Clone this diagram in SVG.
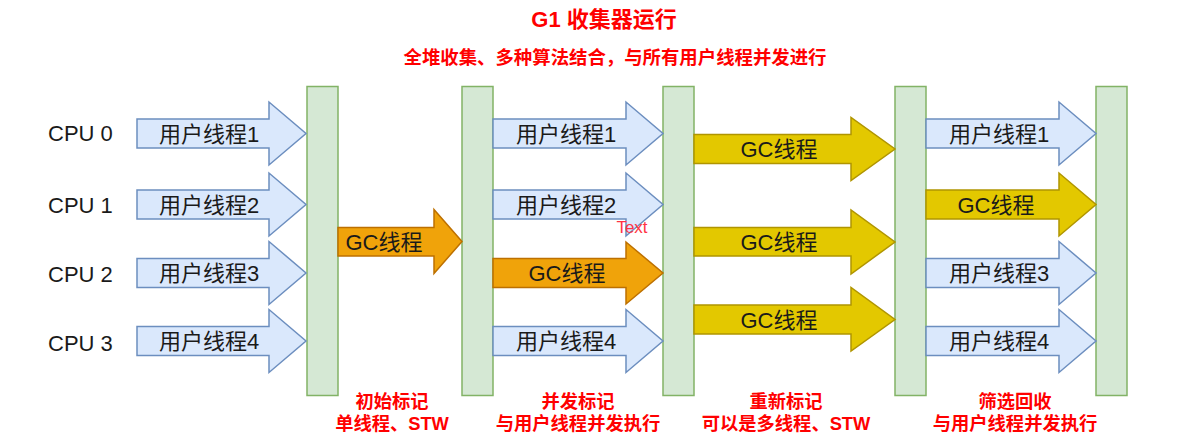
<svg xmlns="http://www.w3.org/2000/svg" width="1183" height="434" viewBox="0 0 1183 434">
<style>
text{font-family:"Liberation Sans","Noto Sans CJK SC",sans-serif;}
.bar{fill:#d5e8d4;stroke:#82b366;stroke-width:1.5;}
.blue{fill:#dae8fc;stroke:#6c8ebf;stroke-width:1.5;}
.orange{fill:#f0a30a;stroke:#BD7000;stroke-width:1.5;}
.yellow{fill:#e3c800;stroke:#B09500;stroke-width:1.5;}
.lbl{font-size:22px;fill:#1a1a1a;text-anchor:middle;dominant-baseline:central;}
.cpu{font-size:22px;fill:#1a1a1a;}
.red{fill:#ff0000;font-weight:bold;text-anchor:middle;}
</style>
<g id="title"><text class="red" x="604" y="27" font-size="22">G1 收集器运行</text></g>
<g id="subtitle"><text class="red" x="615" y="64" font-size="18.4">全堆收集、多种算法结合，与所有用户线程并发进行</text></g>
<g id="cpu-labels">
<text class="cpu" x="48" y="141">CPU 0</text>
<text class="cpu" x="48" y="213">CPU 1</text>
<text class="cpu" x="48" y="281.5">CPU 2</text>
<text class="cpu" x="48" y="350.5">CPU 3</text>
</g>
<g id="bars">
<rect id="bar1" class="bar" x="307" y="86.5" width="31" height="309"/>
<rect id="bar2" class="bar" x="462" y="86.5" width="31" height="309"/>
<rect id="bar3" class="bar" x="663" y="86.5" width="31" height="309"/>
<rect id="bar4" class="bar" x="895" y="86.5" width="31" height="309"/>
<rect id="bar5" class="bar" x="1096" y="86.5" width="31" height="309"/>
</g>
<g id="connectors">
<!-- column 1 -->
<g id="c1-u1"><path class="blue" d="M137,119 H269 V102 L306,133.5 L269,165 V148 H137 Z"/><text class="lbl" x="209" y="134">用户线程1</text></g>
<g id="c1-u2"><path class="blue" d="M137,190 H269 V173 L306,204.5 L269,236 V219 H137 Z"/><text class="lbl" x="209" y="205">用户线程2</text></g>
<g id="c1-u3"><path class="blue" d="M137,258.5 H269 V241.5 L306,273 L269,304.5 V287.5 H137 Z"/><text class="lbl" x="209" y="273.5">用户线程3</text></g>
<g id="c1-u4"><path class="blue" d="M137,326.5 H269 V309.5 L306,341 L269,372.5 V355.5 H137 Z"/><text class="lbl" x="209" y="341.5">用户线程4</text></g>
<g id="c1-gc"><path class="orange" d="M338,227.5 H434 V209.5 L462,241.5 L434,273.5 V256 H338 Z"/><text class="lbl" x="384" y="242">GC线程</text></g>
<!-- column 2 -->
<g id="c2-u1"><path class="blue" d="M493,119 H626 V102 L663,133.5 L626,165 V148 H493 Z"/><text class="lbl" x="566" y="134">用户线程1</text></g>
<g id="c2-u2"><path class="blue" d="M493,190 H626 V173 L663,204.5 L626,236 V219 H493 Z"/><text class="lbl" x="566" y="205">用户线程2</text></g>
<g id="c2-gc"><path class="orange" d="M493,258.5 H626 V242 L663,273 L626,304 V287.5 H493 Z"/><text class="lbl" x="567" y="273.5">GC线程</text></g>
<g id="c2-u4"><path class="blue" d="M493,326.5 H626 V309.5 L663,341 L626,372.5 V355.5 H493 Z"/><text class="lbl" x="566" y="341.5">用户线程4</text></g>
<!-- column 3 -->
<g id="c3-gc1"><path class="yellow" d="M694,134.5 H851 V117.5 L895,149 L851,180.5 V163.5 H694 Z"/><text class="lbl" x="779" y="149.5">GC线程</text></g>
<g id="c3-gc2"><path class="yellow" d="M694,227.5 H851 V210 L895,242 L851,274 V256 H694 Z"/><text class="lbl" x="779" y="242.5">GC线程</text></g>
<g id="c3-gc3"><path class="yellow" d="M694,305 H851 V287.5 L895,319.5 L851,351 V334 H694 Z"/><text class="lbl" x="779" y="320">GC线程</text></g>
<!-- column 4 -->
<g id="c4-u1"><path class="blue" d="M926,119 H1059 V102 L1096,133.5 L1059,165 V148 H926 Z"/><text class="lbl" x="999" y="134">用户线程1</text></g>
<g id="c4-gc"><path class="yellow" d="M926,190 H1059 V173 L1096,204.5 L1059,236 V219 H926 Z"/><text class="lbl" x="996" y="205">GC线程</text></g>
<g id="c4-u3"><path class="blue" d="M926,258.5 H1059 V241.5 L1096,273 L1059,304.5 V287.5 H926 Z"/><text class="lbl" x="999" y="273.5">用户线程3</text></g>
<g id="c4-u4"><path class="blue" d="M926,326.5 H1059 V309.5 L1096,341 L1059,372.5 V355.5 H926 Z"/><text class="lbl" x="999" y="341.5">用户线程4</text></g>
</g>
<g id="text-note"><text x="632" y="233" font-size="17" fill="#ff3344" text-anchor="middle">Text</text></g>
<g id="phase-labels">
<text class="red" x="392" y="408" font-size="18.3">初始标记</text>
<text class="red" x="392" y="429.5" font-size="18.3">单线程、STW</text>
<text class="red" x="578" y="408" font-size="18.3">并发标记</text>
<text class="red" x="578" y="429.5" font-size="18.3">与用户线程并发执行</text>
<text class="red" x="786" y="408" font-size="18.3">重新标记</text>
<text class="red" x="786" y="429.5" font-size="18.3">可以是多线程、STW</text>
<text class="red" x="1015" y="408" font-size="18.3">筛选回收</text>
<text class="red" x="1015" y="429.5" font-size="18.3">与用户线程并发执行</text>
</g>
</svg>
